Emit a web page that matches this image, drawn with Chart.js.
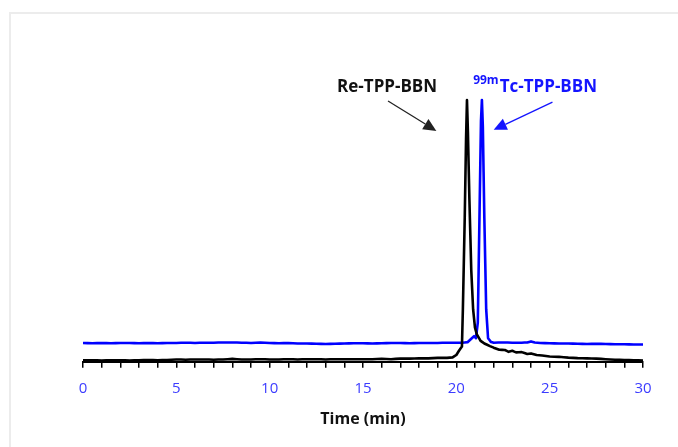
<!DOCTYPE html>
<html>
<head>
<meta charset="utf-8">
<script src="https://cdn.jsdelivr.net/npm/chart.js@4"></script>
<style>
  html, body { margin: 0; padding: 0; background: #fff; }
  #wrap { position: relative; width: 678px; height: 447px; overflow: hidden; }
  #frame { position: absolute; left: 9px; top: 12px; width: 760px; height: 520px;
           border-left: 2px solid #ececec; border-top: 2px solid #ececec; }
  canvas { position: absolute; left: 0; top: 0; }
</style>
</head>
<body>
<div id="wrap">
  <div id="frame"></div>
  <canvas id="c" width="678" height="447"></canvas>
</div>
<script>
// ---- Data (retention time in min, relative detector response) ----
const reTime = [0,0.5,1,1.5,2,2.5,3,3.5,4,4.5,5,5.5,6,6.5,7,7.5,8,8.5,9,9.5,10,10.5,11,11.5,12,12.5,13,13.5,14,14.5,15,15.5,16,16.5,17,17.5,18,18.5,19,19.5,19.8,20.0,20.15,20.3,20.35,20.45,20.52,20.57,20.62,20.7,20.8,20.9,21.0,21.1,21.3,21.5,21.8,22.0,22.3,22.6,22.8,23.0,23.2,23.5,23.8,24.0,24.3,24.6,25,25.5,26,26.5,27,27.5,28,28.5,29,29.5,30];
const reSignal = [0.6,0.6,0.5,0.6,0.6,0.5,0.6,0.7,0.6,0.7,0.9,0.8,0.9,0.9,0.8,0.9,1.1,0.9,0.9,1.0,0.9,0.9,1.0,0.9,1.0,1.0,0.9,1.0,1.0,1.0,1.0,1.0,1.1,1.0,1.2,1.2,1.3,1.3,1.5,1.5,1.7,2.6,4.3,5.8,20,55,85,100,88,62,35,20,13,10.5,8,7,6,5.4,4.6,4.5,3.8,4.2,3.6,3.7,3.0,3.2,2.6,2.4,2.0,1.9,1.6,1.4,1.3,1.2,1.0,0.8,0.7,0.6,0.5];

const tcTime = [0,0.5,1,1.5,2,2.5,3,3.5,4,4.5,5,5.5,6,6.5,7,7.5,8,8.5,9,9.5,10,10.5,11,11.5,12,12.5,13,13.5,14,14.5,15,15.5,16,16.5,17,17.5,18,18.5,19,19.5,20,20.3,20.6,20.8,20.95,21.05,21.15,21.25,21.32,21.37,21.42,21.5,21.6,21.7,21.85,22,22.5,23,23.5,23.8,24,24.2,24.5,25,25.5,26,26.5,27,27.5,28,28.5,29,29.5,30];
const tcSignal = [7.2,7.1,7.2,7.1,7.2,7.2,7.1,7.2,7.1,7.2,7.2,7.3,7.2,7.3,7.3,7.4,7.4,7.3,7.2,7.4,7.2,7.1,7.2,7.0,7.0,6.9,6.8,6.9,7.0,7.1,7.1,7.0,7.1,7.2,7.2,7.1,7.2,7.2,7.2,7.3,7.3,7.3,7.5,8.8,9.8,9.0,15,60,92,100,90,55,20,9,7.6,7.3,7.4,7.3,7.3,7.4,7.8,7.4,7.2,7.1,7.0,7.0,6.9,6.8,6.9,6.8,6.7,6.7,6.6,6.6];

const xTicksMajor = [0,5,10,15,20,25,30];
const seriesNames = ['Re-TPP-BBN', 'Tc-TPP-BBN'];

const toXY = (xs, ys) => xs.map((x, i) => ({x: x, y: ys[i]}));

// Annotation anchors in data units
const labelRe = {x: 16.29, y: 102.9};
const arrowRe = {x1: 16.34, y1: 99.6, x2: 18.93, y2: 88.2};
const labelTc = {x: 20.9, y: 102.9};
const arrowTc = {x1: 25.15, y1: 99.2, x2: 22.0, y2: 88.6};

function drawArrow(ctx, x1, y1, x2, y2, color, lw) {
  const ang = Math.atan2(y2 - y1, x2 - x1);
  const hl = 13, hw = 6;
  const bx = x2 - hl * Math.cos(ang), by = y2 - hl * Math.sin(ang);
  ctx.save();
  ctx.strokeStyle = color; ctx.fillStyle = color; ctx.lineWidth = lw;
  ctx.beginPath(); ctx.moveTo(x1, y1); ctx.lineTo(bx, by); ctx.stroke();
  ctx.beginPath();
  ctx.moveTo(x2, y2);
  ctx.lineTo(bx + hw * Math.sin(ang), by - hw * Math.cos(ang));
  ctx.lineTo(bx - hw * Math.sin(ang), by + hw * Math.cos(ang));
  ctx.closePath(); ctx.fill();
  ctx.restore();
}

const annot = {
  id: 'annot',
  afterDatasetsDraw(chart) {
    const {ctx, scales: {x, y}} = chart;
    ctx.save();
    ctx.textBaseline = 'alphabetic';
    ctx.font = 'bold 17px "Open Sans"';
    ctx.fillStyle = '#111';
    ctx.textAlign = 'center';
    ctx.fillText(seriesNames[0], x.getPixelForValue(labelRe.x), y.getPixelForValue(labelRe.y));
    drawArrow(ctx, x.getPixelForValue(arrowRe.x1), y.getPixelForValue(arrowRe.y1),
              x.getPixelForValue(arrowRe.x2), y.getPixelForValue(arrowRe.y2), '#222', 1.3);
    ctx.textAlign = 'left';
    ctx.fillStyle = '#1414ff';
    const lx = x.getPixelForValue(labelTc.x), ly = y.getPixelForValue(labelTc.y);
    ctx.font = 'bold 12px "Open Sans"';
    ctx.fillText('99m', lx, ly - 8);
    const w = ctx.measureText('99m').width;
    ctx.font = 'bold 17px "Open Sans"';
    ctx.fillText(seriesNames[1], lx + w + 1, ly);
    drawArrow(ctx, x.getPixelForValue(arrowTc.x1), y.getPixelForValue(arrowTc.y1),
              x.getPixelForValue(arrowTc.x2), y.getPixelForValue(arrowTc.y2), '#1414ff', 1.3);
    ctx.restore();
  }
};

new Chart(document.getElementById('c'), {
  type: 'line',
  data: {
    datasets: [
      { label: seriesNames[0], data: toXY(reTime, reSignal), borderColor: '#000', borderWidth: 2.6,
        borderJoinStyle: 'round', pointRadius: 0, tension: 0.0001, fill: false, clip: false },
      { label: seriesNames[1], data: toXY(tcTime, tcSignal), borderColor: '#0000ff', borderWidth: 2.6,
        borderJoinStyle: 'round', pointRadius: 0, tension: 0.0001, fill: false, clip: false }
    ]
  },
  options: {
    responsive: false,
    animation: false,
    events: [],
    layout: { padding: { left: 83, right: 35, top: 100, bottom: 8 } },
    plugins: { legend: { display: false }, tooltip: { enabled: false } },
    scales: {
      x: {
        type: 'linear', min: 0, max: 30,
        border: { display: true, color: '#000', width: 2 },
        grid: { display: true, drawOnChartArea: false, drawTicks: true, tickLength: 6, color: '#000', lineWidth: 1.5 },
        ticks: {
          stepSize: 1, autoSkip: false, maxRotation: 0, padding: 12,
          color: '#3c3cff', font: { family: '"Open Sans"', size: 15 },
          callback: (v) => xTicksMajor.includes(v) ? String(v) : ''
        },
        title: { display: true, text: 'Time (min)', color: '#111',
                 font: { family: '"Open Sans"', size: 16, weight: 'bold' },
                 padding: { top: 0, bottom: 10 } }
      },
      y: { display: false, min: 0, max: 100 }
    }
  },
  plugins: [annot]
});
</script>
</body>
</html>
